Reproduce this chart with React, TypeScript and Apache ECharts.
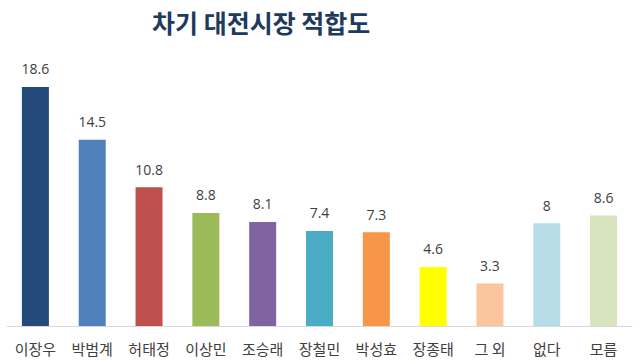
import React, { useEffect, useRef } from "react";
import * as echarts from "echarts";

const categories = ["이장우", "박범계", "허태정", "이상민", "조승래", "장철민", "박성효", "장종태", "그 외", "없다", "모름"];
const values = [18.6, 14.5, 10.8, 8.8, 8.1, 7.4, 7.3, 4.6, 3.3, 8, 8.6];
const colors = ["#244a7c", "#4f81bd", "#c0504d", "#9bbb59", "#8064a2", "#4bacc6", "#f79646", "#ffff00", "#fbc69d", "#b7dde8", "#d7e4bd"];

export default function App() {
  const ref = useRef<HTMLDivElement>(null);
  useEffect(() => {
    const chart = echarts.init(ref.current!, null, { renderer: "svg" });
    chart.setOption({
      animation: false,
      backgroundColor: "#ffffff",
      title: {
        text: "차기 대전시장 적합도",
        left: 147,
        top: 4,
        textStyle: {
          fontFamily: "Noto Sans CJK KR",
          fontSize: 25,
          fontWeight: "bold",
          color: "#1f3a5f",
        },
      },
      grid: { left: 7, right: 8, top: 69, bottom: 34 },
      xAxis: {
        type: "category",
        data: categories,
        axisLine: { lineStyle: { color: "#d9d9d9", width: 1 } },
        axisTick: { show: false },
        axisLabel: {
          interval: 0,
          margin: 15,
          fontFamily: "Noto Sans CJK KR",
          fontSize: 15,
          color: "#404040",
        },
      },
      yAxis: {
        type: "value",
        min: 0,
        max: 20,
        show: false,
        splitLine: { show: false },
      },
      series: [
        {
          type: "bar",
          barWidth: 27,
          data: values.map((v, i) => ({ value: v, itemStyle: { color: colors[i] } })),
          label: {
            show: true,
            position: "top",
            distance: 11,
            fontFamily: "Open Sans",
            fontSize: 14,
            color: "#404040",
          },
        },
      ],
    });
    return () => chart.dispose();
  }, []);
  return <div ref={ref} style={{ width: 640, height: 360, position: "fixed", left: 0, top: 0 }} />;
}
